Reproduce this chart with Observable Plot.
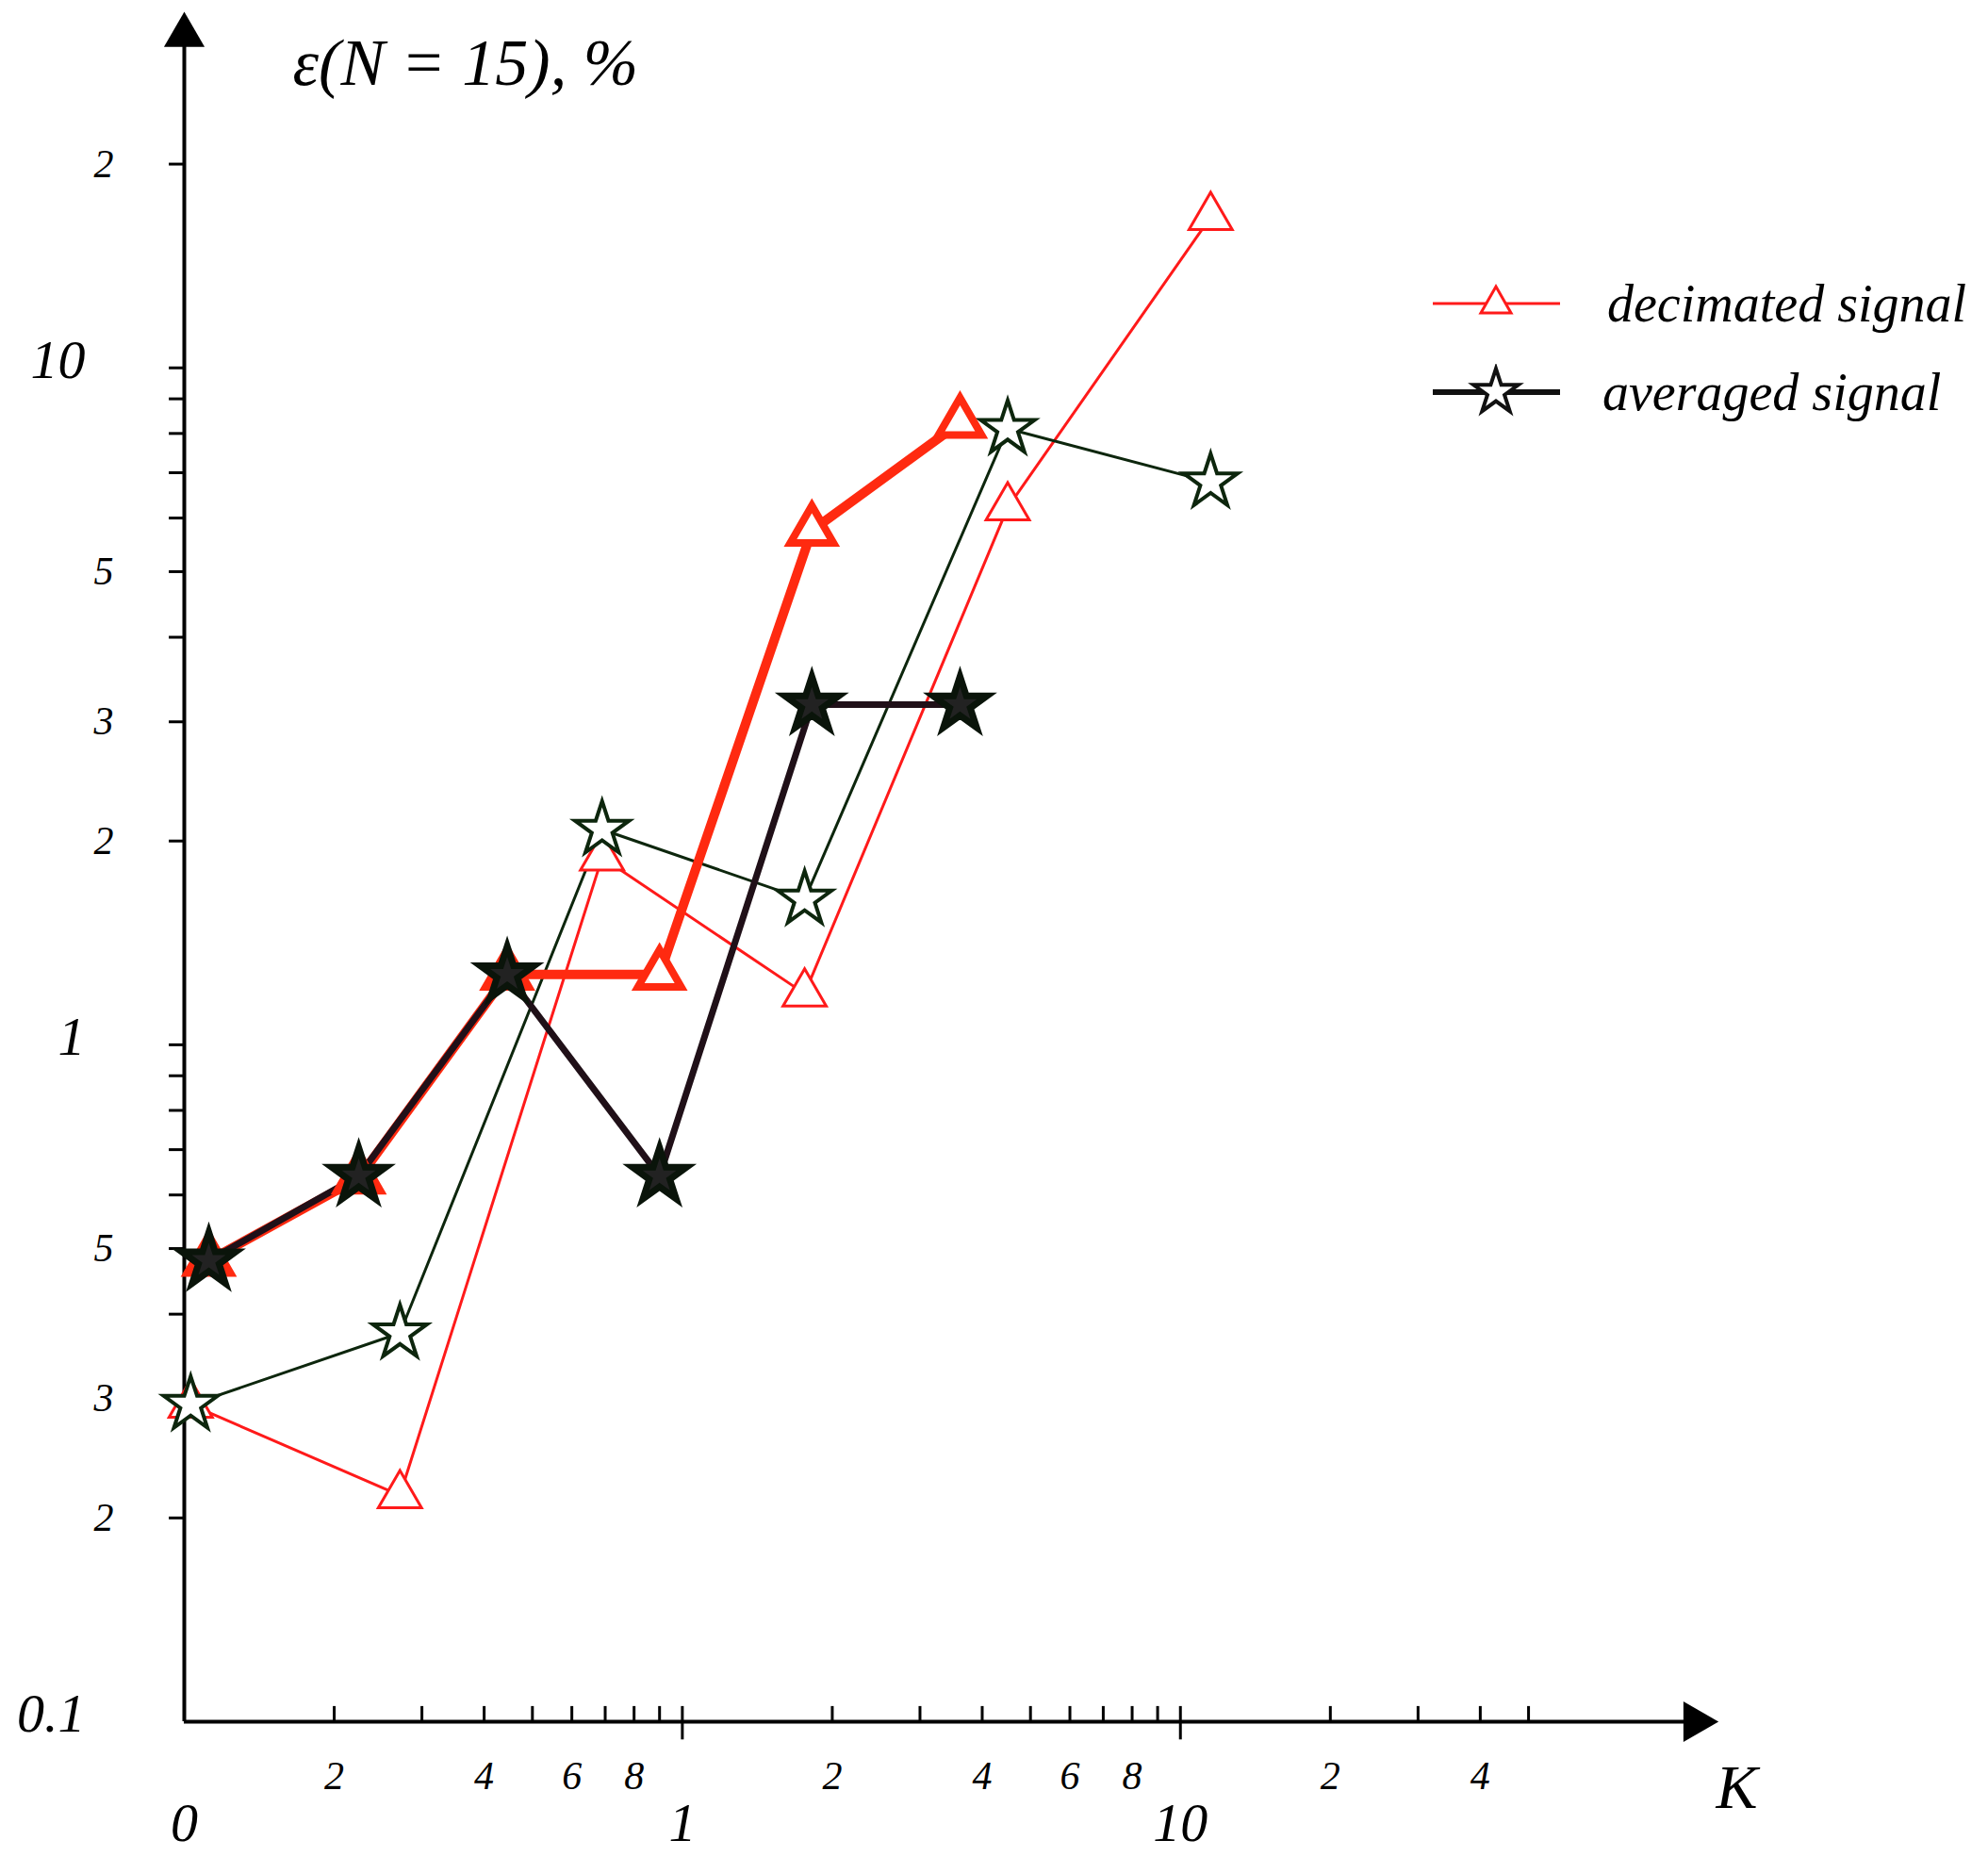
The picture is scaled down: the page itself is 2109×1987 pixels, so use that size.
<!DOCTYPE html>
<html><head><meta charset="utf-8">
<script src="https://cdn.jsdelivr.net/npm/d3@7"></script>
<script src="https://cdn.jsdelivr.net/npm/@observablehq/plot@0.6"></script>
<style>body{margin:0;background:#fff}#c{position:relative;width:2109px;height:1987px}
#leg{position:absolute;left:1515px;top:275px;font-family:"Liberation Serif",serif;font-style:italic;font-size:56px}
</style></head><body><div id="c"><div id="leg"></div></div>
<script>
// thin series
const kThin = [0.103, 0.271, 0.69, 1.76, 4.5, 11.5];
const decThin = [0.294, 0.216, 1.89, 1.19, 6.22, 16.7];
const avgThin = [0.294, 0.375, 2.08, 1.64, 8.13, 6.78];
// thick series
const kThick = [0.112, 0.224, 0.445, 0.90, 1.82, 3.61];
const decThick = [0.48, 0.635, 1.27, 1.27, 5.75, 8.3];
const avgThick = [0.48, 0.64, 1.27, 0.64, 3.18, 3.18];
// axis ticks & labels
const xMinor = [0.2,0.3,0.4,0.5,0.6,0.7,0.8,0.9,2,3,4,5,6,7,8,9,20,30,40,50];
const xMajor = [1,10];
const xSmallLabels = [{v:0.2,t:"2"},{v:0.4,t:"4"},{v:0.6,t:"6"},{v:0.8,t:"8"},{v:2,t:"2"},{v:4,t:"4"},{v:6,t:"6"},{v:8,t:"8"},{v:20,t:"2"},{v:40,t:"4"}];
const xBigLabels = [{v:0.1,t:"0"},{v:1,t:"1"},{v:10,t:"10"}];
const yMinor = [0.2,0.3,0.4,0.5,0.6,0.7,0.8,0.9,2,3,4,5,6,7,8,9,20];
const ySmallLabels = [{v:0.2,t:"2"},{v:0.3,t:"3"},{v:0.5,t:"5"},{v:2,t:"2"},{v:3,t:"3"},{v:5,t:"5"},{v:20,t:"2"}];
const yBigLabels = [{v:0.1,t:"0.1"},{v:1,t:"1"},{v:10,t:"10"}];

const thin = kThin.map((k,i)=>({k, d:decThin[i], a:avgThin[i]}));
const thick = kThick.map((k,i)=>({k, d:decThick[i], a:avgThick[i]}));
const F = "Liberation Serif";
const plot = Plot.plot({
  width: 2109, height: 1987,
  marginLeft: 195, marginRight: 307, marginTop: 27, marginBottom: 161,
  x: {type:"log", domain:[0.1,110], axis:null},
  y: {type:"log", domain:[0.1,32], axis:null},
  style:{fontFamily:F, overflow:"visible"},
  marks: [
    Plot.ruleY([0.1], {x1:0.1, x2:104, strokeWidth:4}),
    Plot.ruleX([0.1], {y1:0.1, y2:30, strokeWidth:4}),
    Plot.dot([{x:108,y:0.1}], {x:"x",y:"y",symbol:"triangle",r:16,fill:"black",rotate:90}),
    Plot.dot([{x:0.1,y:31}], {x:"x",y:"y",symbol:"triangle",r:16,fill:"black"}),
    Plot.ruleX(xMinor, {x:d=>d, y1:0.1, y2:0.1053, strokeWidth:3}),
    Plot.ruleX(xMajor, {x:d=>d, y1:0.094, y2:0.1053, strokeWidth:3}),
    Plot.ruleY(yMinor, {y:d=>d, x1:0.0933, x2:0.1, strokeWidth:3}),
    Plot.ruleY([1,10], {y:d=>d, x1:0.0933, x2:0.1, strokeWidth:3}),
    Plot.text(xSmallLabels, {x:"v", y:()=>0.1, text:"t", dy:58, fontSize:42, fontStyle:"italic"}),
    Plot.text(xBigLabels, {x:"v", y:()=>0.1, text:"t", dy:108, fontSize:58, fontStyle:"italic"}),
    Plot.text(["K"], {x:()=>110, y:()=>0.1, text:d=>d, dx:40, dy:70, fontSize:66, fontStyle:"italic"}),
    Plot.text(ySmallLabels, {x:()=>0.1, y:"v", text:"t", dx:-75, textAnchor:"end", fontSize:42, fontStyle:"italic"}),
    Plot.text(yBigLabels, {x:()=>0.1, y:"v", text:"t", dx:-105, dy:-8, textAnchor:"end", fontSize:58, fontStyle:"italic"}),
    Plot.text(["ε(N = 15), %"], {x:()=>0.1, y:()=>32, text:d=>d, dx:115, dy:40, textAnchor:"start", fontSize:70, fontStyle:"italic"}),
    // thin lines
    Plot.line(thin, {x:"k", y:"d", stroke:"#ff1a1a", strokeWidth:3}),
    Plot.line(thin, {x:"k", y:"a", stroke:"#0d260d", strokeWidth:3}),
    // thick lines
    Plot.line(thick, {x:"k", y:"d", stroke:"#ff2a10", strokeWidth:10}),
    Plot.line(thick, {x:"k", y:"a", stroke:"#201018", strokeWidth:7}),
    Plot.dot(thin, {x:"k", y:"d", symbol:"triangle", r:17, stroke:"#ff1a1a", fill:"white", strokeWidth:3}),
    Plot.dot(thin, {x:"k", y:"a", symbol:"star", r:18, stroke:"#0d260d", fill:"white", strokeWidth:4}),
    Plot.dot(thick, {x:"k", y:"d", symbol:"triangle", r:17, stroke:"#ff2a10", fill:"white", strokeWidth:8}),
    Plot.dot(thick, {x:"k", y:"a", symbol:"star", r:18, stroke:"#0a140a", fill:"#222", strokeWidth:7})
  ]
});
document.getElementById("c").prepend(plot);
document.getElementById("leg").innerHTML = `
<div style="display:flex;align-items:center;height:94px"><svg width="145" height="60"><line x1="5" x2="140" y1="30" y2="30" stroke="#ff1a1a" stroke-width="3"/><path d="M72,12 L88,40 L56,40Z" fill="white" stroke="#ff1a1a" stroke-width="3"/></svg><span style="margin-left:45px">decimated signal</span></div>
<div style="display:flex;align-items:center;height:94px"><svg width="145" height="60"><line x1="5" x2="140" y1="30" y2="30" stroke="#111" stroke-width="6"/><path d="${d3.symbol(d3.symbolStar, 700)()}" transform="translate(72,30)" fill="white" stroke="#111" stroke-width="4"/></svg><span style="margin-left:40px">averaged signal</span></div>`;
</script></body></html>
